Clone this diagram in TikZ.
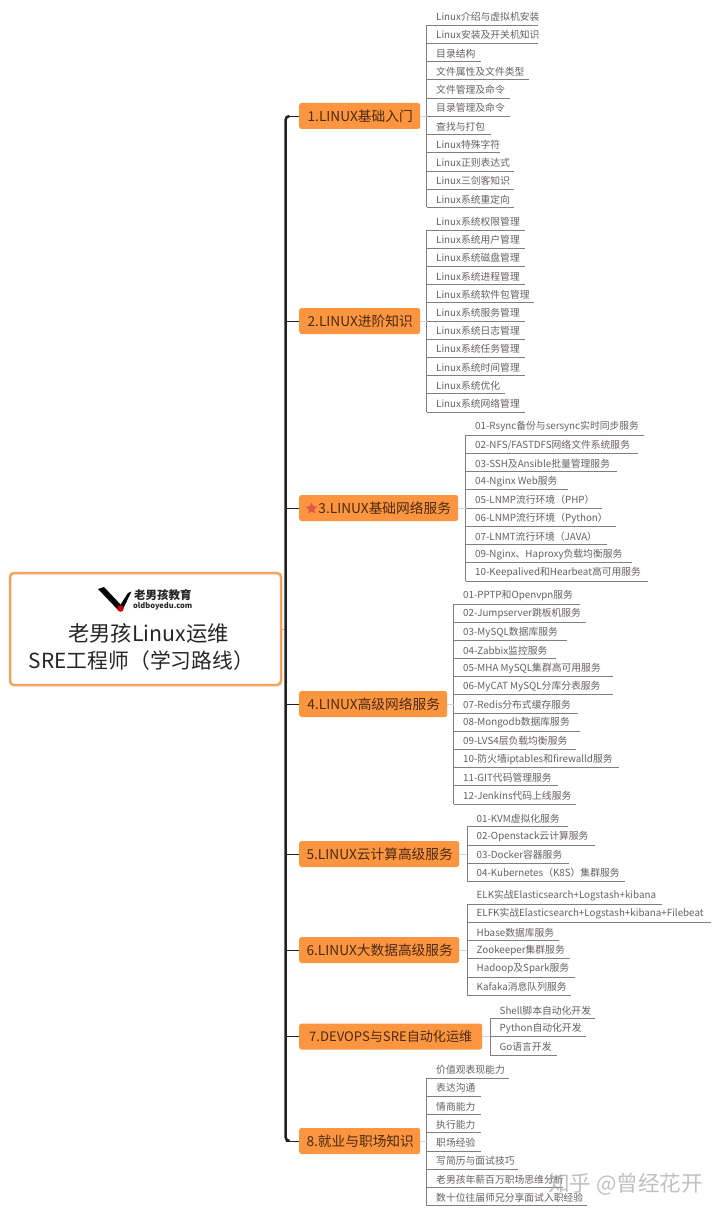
\documentclass[tikz,border=0pt]{standalone}
\usepackage{fontspec}
\setmainfont{Noto Sans CJK SC}
\usetikzlibrary{shapes.geometric,calc}
\definecolor{catfill}{HTML}{FB9540}
\definecolor{cattext}{HTML}{4A2A12}
\definecolor{kidtext}{HTML}{666060}
\definecolor{kidline}{HTML}{7F7F7F}
\definecolor{rootline}{HTML}{F2A35C}
\definecolor{spinecol}{HTML}{231F24}
\definecolor{stubcol}{HTML}{C9D6DE}
\definecolor{starcol}{HTML}{E2564A}
\tikzset{
  kid/.style={inner xsep=0pt,inner ysep=0pt,minimum height=16pt,text=kidtext,font=\fontsize{9.8}{12}\selectfont},
  under/.style={draw=kidline,line width=0.9pt},
  stub/.style={draw=stubcol,line width=0.9pt},
  cat/.style={fill=catfill,rounded corners=2.5pt,minimum height=26pt,inner xsep=0pt,inner ysep=0pt,text=cattext,font=\fontsize{13.7}{16}\selectfont},
  spine/.style={draw=spinecol,line width=2.5pt},
  twig/.style={draw=spinecol,line width=0.9pt},
}
\newcommand\kidgroup[6]{%
  \foreach[count=\i] \ee/\txt in {#6}{%
    \pgfmathsetmacro\yy{#3+(\i-1)*#4}%
    \pgfmathsetmacro\ww{\ee-#2}%
    \node[kid,minimum width=\ww pt,anchor=south west] (#1i\i) at (#2,\yy) {\makebox[\ww pt][l]{\hspace*{9.5pt}\txt}};
    \draw[under] (#1i\i.south west) -- (#1i\i.south east);
    \xdef\lastkid{\i}%
  }
  \draw[under] (#1i1.south west) -- (#1i\lastkid.south west);
  \coordinate (#1s) at (#1i1.south west |- #5);
  \draw[stub] (#5.east) -- (#1s);
}
\begin{document}
\begin{tikzpicture}[x=1pt,y=-1pt]
\path[use as bounding box,fill=white] (0,0) rectangle (720,1214);

% root
\node[draw=rootline,line width=2.5pt,rounded corners=4pt,fill=white,minimum width=271pt,minimum height=112pt,inner sep=0pt] (root) at (145.5,629) {};
\node[inner sep=0pt,font=\fontsize{21.3}{24}\selectfont,text=black!85] (t1) at (148.5,633) {老男孩Linux运维};
\node[inner sep=0pt,font=\fontsize{20.8}{24}\selectfont,text=black!85] (t2) at (141.5,661) {SRE工程师（学习路线）};
% logo
\fill[black] (98,589) -- (104,587) -- (122,606) -- (119,611) -- cycle;
\fill[black] (119,607) -- (128,593) -- (131.5,591.5) -- (122,611) -- cycle;
\node[circle,fill=red!80!black,inner sep=0pt,minimum size=6.5pt] (dot) at (120.5,608.5) {};
\node[inner sep=0pt,anchor=west,font=\fontsize{11.5}{13}\selectfont\bfseries,text=black!85] (lg1) at (134,595) {老男孩教育};
\node[inner sep=0pt,anchor=west,font=\fontsize{7.5}{10}\selectfont\bfseries,text=black!85] (lg2) at (133,606) {oldboyedu.com};

% categories
\node[cat,minimum width=121pt,anchor=west] (c1) at (299,116) {\hspace*{1pt}1.LINUX基础入门};
\node[cat,minimum width=121pt,anchor=west] (c2) at (299,321) {\hspace*{1pt}2.LINUX进阶知识};
\node[cat,minimum width=159pt,anchor=west] (c3) at (299,508) {\hspace*{12pt}3.LINUX基础网络服务};
\node[cat,minimum width=148pt,anchor=west] (c4) at (299,704) {\hspace*{1pt}4.LINUX高级网络服务};
\node[cat,minimum width=160pt,anchor=west] (c5) at (299,854) {\hspace*{1pt}5.LINUX云计算高级服务};
\node[cat,minimum width=160pt,anchor=west] (c6) at (299,950) {\hspace*{1pt}6.LINUX大数据高级服务};
\node[cat,minimum width=183pt,anchor=west,font=\fontsize{13.1}{16}\selectfont] (c7) at (299,1036.5) {7.DEVOPS与SRE自动化运维};
\node[cat,minimum width=121pt,anchor=west] (c8) at (299,1141) {\hspace*{1pt}8.就业与职场知识};
\node[star,star points=5,star point ratio=2.1,fill=starcol,inner sep=0pt,minimum size=12pt] (st) at (311.5,508.5) {};

% trunk
\coordinate (trk) at (285.5,0);
\draw[twig] (trk |- c1) -- (c1.west);
\draw[twig] (trk |- c2) -- (c2.west);
\draw[twig] (trk |- c3) -- (c3.west);
\draw[twig] (trk |- c4) -- (c4.west);
\draw[twig] (trk |- c5) -- (c5.west);
\draw[twig] (trk |- c6) -- (c6.west);
\draw[twig] (trk |- c7) -- (c7.west);
\draw[twig] (trk |- c8) -- (c8.west);
\draw[rootline,line width=0.9pt] (root.east) -- (trk |- root);
\draw[spine,rounded corners=4pt] ($(trk |- c1)+(4,0)$) -- (trk |- c1) -- (trk |- c8) -- ($(trk |- c8)+(4,0)$);

% children
\kidgroup{a}{426.5}{25}{18.25}{c1}{538/Linux介绍与虚拟机安装,538/Linux安装及开关机知识,481/目录结构,529/文件属性及文件类型,510/文件管理及命令,510/目录管理及命令,491/查找与打包,500/Linux特殊字符,514/Linux正则表达式,514/Linux三剑客知识,514/Linux系统重定向}
\kidgroup{b}{426.5}{230}{18.2}{c2}{524.5/Linux系统权限管理,524.5/Linux系统用户管理,524.5/Linux系统磁盘管理,524.5/Linux系统进程管理,533.5/Linux系统软件包管理,524.5/Linux系统服务管理,524.5/Linux系统日志管理,524.5/Linux系统任务管理,524.5/Linux系统时间管理,505/Linux系统优化,524.5/Linux系统网络管理}
\kidgroup{d}{465.5}{435}{18.25}{c3}{644/01-Rsync备份与sersync实时同步服务,638/{02-NFS/FASTDFS网络文件系统服务},617/03-SSH及Ansible批量管理服务,568/04-Nginx Web服务,602/05-LNMP流行环境（PHP）,616/06-LNMP流行环境（Python）,607/07-LNMT流行环境（JAVA）,632/09-Nginx、Haproxy负载均衡服务,648/10-Keepalived和Hearbeat高可用服务}
\kidgroup{e}{453.5}{604}{18.18}{c4}{580/01-PPTP和Openvpn服务,586/02-Jumpserver跳板机服务,566.5/03-MySQL数据库服务,555.5/04-Zabbix监控服务,612.5/05-MHA MySQL集群高可用服务,612.5/06-MyCAT MySQL分库分表服务,578/07-Redis分布式缓存服务,580/08-Mongodb数据库服务,575.5/09-LVS4层负载均衡服务,619/10-防火墙iptables和firewalld服务,557.5/11-GIT代码管理服务,575.5/12-Jenkins代码上线服务}
\kidgroup{f}{467}{826.7}{18.25}{c5}{568/01-KVM虚拟化服务,595/02-Openstack云计算服务,569/03-Docker容器服务,625/04-Kubernetes（K8S）集群服务}
\kidgroup{g}{467}{904}{18.25}{c6}{662/ELK实战Elasticsearch+Logstash+kibana,711/ELFK实战Elasticsearch+Logstash+kibana+Filebeat,559/Hbase数据库服务,570/Zookeeper集群服务,575/Hadoop及Spark服务,571/Kafaka消息队列服务}
\kidgroup{h}{490}{1018.5}{18.25}{c7}{595/Shell脚本自动化开发,586/Python自动化开发,557/Go语言开发}
\kidgroup{k}{426.5}{1078}{18.25}{c8}{509/价值观表现能力,481/表达沟通,481/情商能力,481/执行能力,481/职场经验,518/写简历与面试技巧,563/老男孩年薪百万职场思维分析,587/数十位往届师兄分享面试入职经验}

% watermark
\node[inner sep=0pt,anchor=west,text=black!35,opacity=0.7,font=\fontsize{21.6}{24}\selectfont] (wm) at (548,1184) {知乎 @曾经花开};
\end{tikzpicture}
\end{document}
